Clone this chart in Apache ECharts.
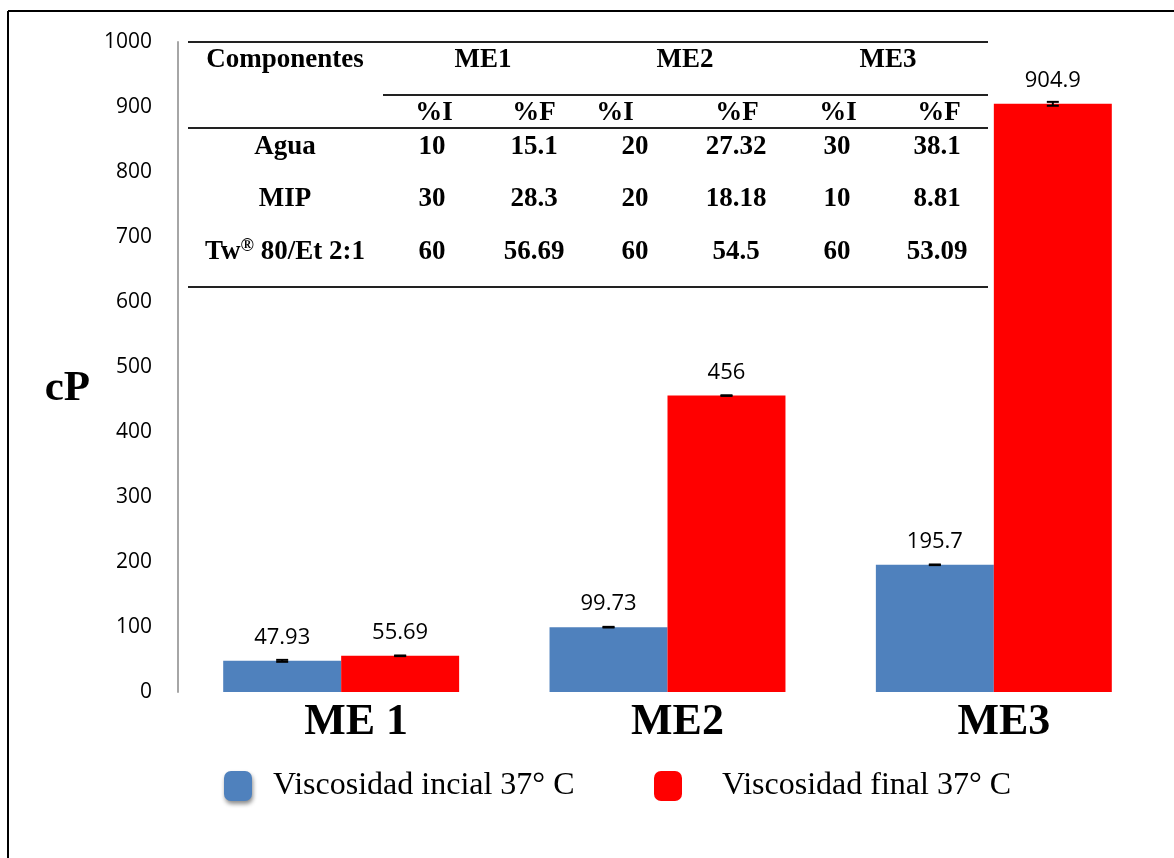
<!DOCTYPE html>
<html>
<head>
<meta charset="utf-8">
<script src="https://cdn.jsdelivr.net/npm/echarts@6/dist/echarts.min.js"></script>
<style>
  html, body { margin: 0; padding: 0; background: #fff; }
  #chart { width: 1174px; height: 858px; }
</style>
</head>
<body>
<div id="chart"></div>
<script>
// ---- data ----
const categories = ['ME 1', 'ME2', 'ME3'];
const seriesNames = ['Viscosidad incial 37° C', 'Viscosidad final 37° C'];
const viscInicial = [47.93, 99.73, 195.7];
const viscFinal = [55.69, 456, 904.9];
const errInicial = [1.5, 0.5, 0.5];
const errFinal = [0.5, 0.5, 3];
const yMin = 0, yMax = 1000, yStep = 100;

// embedded composition table
const tableTitle = 'Componentes';
const tableGroups = ['ME1', 'ME2', 'ME3'];
const tableSubHeaders = ['%I', '%F', '%I', '%F', '%I', '%F'];
const tableRowNames = ['Agua', 'MIP', 'Tw® 80/Et 2:1'];
const tableAgua = ['10', '15.1', '20', '27.32', '30', '38.1'];
const tableMIP = ['30', '28.3', '20', '18.18', '10', '8.81'];
const tableTw = ['60', '56.69', '60', '54.5', '60', '53.09'];
const tableRows = [tableAgua, tableMIP, tableTw];

// ---- layout / style ----
const BLUE = '#4F81BD', RED = '#FF0000';
const SERIF = '"Liberation Serif", "Times New Roman", serif';
const SANS = '"Open Sans", "Noto Sans", sans-serif';
const GAP = 0.277;
const tFont = 'bold 27px ' + SERIF;
const groupX = [483, 685, 888];
const subX = [434, 534, 615, 737, 838, 939];
const valX = [432, 534, 635, 736, 837, 937];
const rowY = [147, 199, 252];
const nameX = 285;

const graphics = [];
function line(x1, y1, x2, y2, color, w) {
  graphics.push({ type: 'line', shape: { x1, y1, x2, y2 }, style: { stroke: color, lineWidth: w }, z: 10 });
}
function text(str, x, y, font, extra) {
  graphics.push(Object.assign({
    type: 'text', x, y, z: 10,
    style: Object.assign({ text: str, font, fill: '#000', align: 'center', verticalAlign: 'middle' }, extra || {})
  }));
}
// frame
line(8, 11, 8, 858, '#000', 2);
line(8, 11, 1174, 11, '#000', 2);
// table rules
line(188, 42, 988, 42, '#222', 2);
line(383, 95, 988, 95, '#222', 2);
line(188, 128, 988, 128, '#222', 2);
line(188, 287, 988, 287, '#222', 2);
// table text
text(tableTitle, nameX, 60, tFont);
tableGroups.forEach((g, i) => text(g, groupX[i], 60, tFont));
tableSubHeaders.forEach((s, i) => text(s, subX[i], 113, tFont));
tableRowNames.forEach((n, r) => {
  if (n.indexOf('®') >= 0) {
    const parts = n.split('®');
    text('{a|' + parts[0] + '}{s|®}{a|' + parts[1] + '}', nameX, rowY[r], tFont, {
      rich: {
        a: { font: tFont, lineHeight: 30 },
        s: { font: 'bold 18px ' + SERIF, verticalAlign: 'top', lineHeight: 30, padding: [0, 0, 12, 0] }
      }
    });
  } else {
    text(n, nameX, rowY[r], tFont);
  }
  tableRows[r].forEach((v, c) => text(v, valX[c], rowY[r], tFont));
});

const chart = echarts.init(document.getElementById('chart'));

function errorSeries(name, values, errs, side) {
  return {
    type: 'custom',
    name: name + ' err',
    z: 5,
    silent: true,
    data: values.map((v, i) => [i, v, errs[i]]),
    encode: { x: 0, y: 1 },
    renderItem: function (params, api) {
      const c = api.value(0), v = api.value(1), e = api.value(2);
      const band = api.size([1, 0])[0];
      const bw = band * (1 - GAP) / 2;
      const off = side * bw / 2;
      const top = api.coord([c, v + e]);
      const bot = api.coord([c, v - e]);
      const x = top[0] + off;
      const hw = 6;
      const st = { stroke: '#000', lineWidth: 2 };
      return {
        type: 'group',
        children: [
          { type: 'line', shape: { x1: x, y1: top[1], x2: x, y2: bot[1] }, style: st },
          { type: 'line', shape: { x1: x - hw, y1: top[1], x2: x + hw, y2: top[1] }, style: st },
          { type: 'line', shape: { x1: x - hw, y1: bot[1], x2: x + hw, y2: bot[1] }, style: st }
        ]
      };
    }
  };
}

const labelCfg = {
  show: true, position: 'top', distance: 12,
  fontFamily: SANS, fontSize: 22, color: '#000'
};

chart.setOption({
  animation: false,
  backgroundColor: '#fff',
  grid: { left: 178, right: 17, top: 42, bottom: 166, containLabel: false },
  legend: [
    {
      data: [{ name: seriesNames[0], icon: 'roundRect',
        itemStyle: { color: BLUE, shadowBlur: 4, shadowColor: 'rgba(0,0,0,0.45)', shadowOffsetX: 1, shadowOffsetY: 3 } }],
      left: 224, top: 770, padding: 0, itemWidth: 28, itemHeight: 30, selectedMode: false,
      textStyle: { fontFamily: SERIF, fontSize: 32, color: '#000', padding: [0, 0, 0, 16] }
    },
    {
      data: [{ name: seriesNames[1], icon: 'roundRect', itemStyle: { color: RED } }],
      left: 654, top: 770, padding: 0, itemWidth: 28, itemHeight: 30, selectedMode: false,
      textStyle: { fontFamily: SERIF, fontSize: 32, color: '#000', padding: [0, 0, 0, 35] }
    }
  ],
  xAxis: {
    type: 'category',
    data: categories,
    axisLine: { show: false },
    axisTick: { show: false },
    axisLabel: {
      fontFamily: SERIF, fontWeight: 'bold', fontSize: 44, color: '#000',
      margin: 9,
      formatter: function (v) { return v === 'ME 1' ? '{p1|' + v + '}' : '{p|' + v + '}'; },
      rich: {
        p1: { fontFamily: SERIF, fontWeight: 'bold', fontSize: 44, color: '#000', padding: [0, 0, 0, 30] },
        p: { fontFamily: SERIF, fontWeight: 'bold', fontSize: 44, color: '#000', padding: [0, 0, 0, 20] }
      }
    }
  },
  yAxis: {
    type: 'value',
    min: yMin, max: yMax, interval: yStep,
    name: 'cP',
    nameLocation: 'middle',
    nameRotate: 0,
    nameGap: 88,
    nameTextStyle: { fontFamily: SERIF, fontWeight: 'bold', fontSize: 43, color: '#000', verticalAlign: 'top' },
    axisLine: { show: true, lineStyle: { color: '#a6a6a6', width: 2 } },
    axisTick: { show: false },
    splitLine: { show: false },
    axisLabel: { fontFamily: SANS, fontSize: 21, color: '#000', margin: 26, formatter: function (v) { return String(v); } }
  },
  series: [
    {
      type: 'bar', name: seriesNames[0], data: viscInicial,
      barGap: '0%', barCategoryGap: (GAP * 100) + '%',
      itemStyle: { color: BLUE },
      label: labelCfg
    },
    {
      type: 'bar', name: seriesNames[1], data: viscFinal,
      barGap: '0%', barCategoryGap: (GAP * 100) + '%',
      itemStyle: { color: RED },
      label: labelCfg
    },
    errorSeries(seriesNames[0], viscInicial, errInicial, -1),
    errorSeries(seriesNames[1], viscFinal, errFinal, 1)
  ],
  graphic: graphics
});
</script>
</body>
</html>
